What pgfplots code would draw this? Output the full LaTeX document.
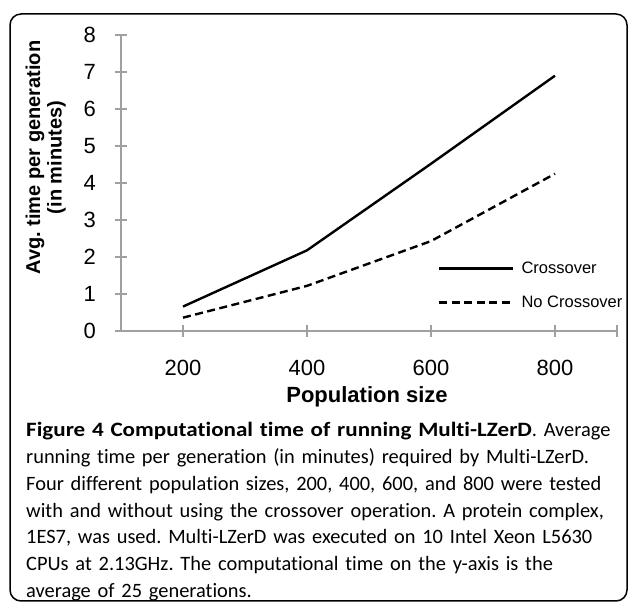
\documentclass[border=0pt]{standalone}
\usepackage{fontspec}
\setmainfont{Liberation Sans}
\newfontfamily\capfont{Carlito}[Ligatures={NoCommon}]
\newfontface\capbold{Carlito Bold}[FakeStretch=1.13, Ligatures={NoCommon}]
\usepackage{pgfplots}
\pgfplotsset{compat=1.18}
\definecolor{axisgray}{RGB}{160,160,160}
\begin{document}
\frenchspacing
\begin{tikzpicture}[x=1pt,y=1pt]
\path[use as bounding box] (0,0) rectangle (629,609);
\draw[line width=1.5pt, rounded corners=11pt] (10,8) rectangle (627,595);
\begin{axis}[
  at={(121pt,278pt)}, anchor=south west,
  scale only axis, width=496pt, height=296pt,
  xmin=100, xmax=900, ymin=0, ymax=8,
  axis lines*=left,
  axis line style={draw=axisgray, line width=1.3pt},
  tick style={draw=axisgray, line width=1.3pt},
  tick align=center, major tick length=12pt,
  xtick={200,400,600,800}, extra x ticks={900}, extra x tick labels={},
  ytick={0,1,2,3,4,5,6,7,8},
  /pgf/number format/assume math mode=true,
  ticklabel style={font=\fontsize{22}{26}\selectfont, inner sep=0pt},
  xticklabel style={anchor=base, yshift=-39pt},
  yticklabel style={anchor=east, xshift=-19pt},
  xlabel={Population size},
  xlabel style={font=\bfseries\fontsize{22}{26}\selectfont, at={(axis description cs:0.496,-0.24)}, anchor=base},
  ylabel={Avg. time per generation\\(in minutes)},
  ylabel style={align=center, font=\bfseries\fontsize{20}{21.5}\selectfont, at={(axis description cs:-0.152,0.586)}, anchor=center},
  legend style={at={(0.639,0.154)}, anchor=west, draw=none, fill=none, inner sep=0pt,
    font=\fontsize{16.5}{19}\selectfont, row sep=17pt, column sep=5pt},
  legend cell align=left,
  legend image code/.code={\draw[#1] (0pt,0pt) -- (74pt,0pt);},
  clip=false,
]
\addplot[black, line width=2.4pt] coordinates {(200,0.66) (400,2.18) (600,4.52) (800,6.9)};
\addlegendentry{Crossover}
\addplot[black, line width=2.4pt, dash pattern=on 8pt off 4.5pt] coordinates {(200,0.36) (400,1.22) (600,2.43) (800,4.25)};
\addlegendentry{No Crossover}
\end{axis}
\node[anchor=base west, inner sep=0pt, text width=610pt, align=left,
  font=\capfont\fontsize{20.4}{26.67}\selectfont] at (26,172) {%
{\capbold Figure 4 Computational time of running Multi-LZerD}. Average\\
running time per generation (in minutes) required by Multi-LZerD.\\
Four different population sizes, 200, 400, 600, and 800 were tested\\
with and without using the crossover operation. A protein complex,\\
1ES7, was used. Multi-LZerD was executed on 10 Intel Xeon L5630\\
CPUs at 2.13GHz. The computational time on the y-axis is the\\
average of 25 generations.};
\end{tikzpicture}
\end{document}
